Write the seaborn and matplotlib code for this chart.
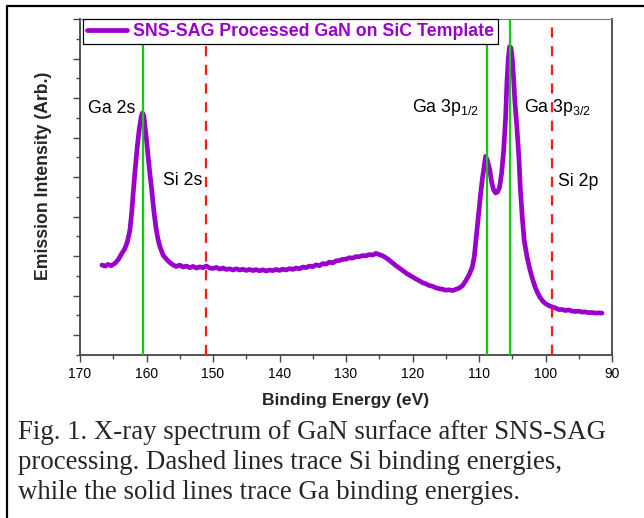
import numpy as np
import pandas as pd
import matplotlib
matplotlib.use("Agg")
import matplotlib.pyplot as plt
from matplotlib.lines import Line2D
from matplotlib.ticker import MultipleLocator, NullFormatter
import seaborn as sns

# ---- data ----
energy = [166.7, 166.2, 165.8, 165.3, 164.7, 164.2, 163.7, 163.3, 162.9, 162.5,
          162.2, 162.0, 161.7, 161.4, 161.1, 160.8, 160.6, 160.4, 160.1, 159.8,
          159.5, 159.2, 158.9, 158.6, 158.3, 158.0, 157.5, 157.0, 156.5, 156.0,
          155.5, 155.0, 154.5, 154.0, 153.5, 153.0, 152.5, 152.0, 151.5, 151.0,
          150.5, 150.0, 149.5, 149.0, 148.5, 148.0, 147.5, 147.0, 146.5, 146.0,
          145.5, 145.0, 144.5, 144.0, 143.5, 143.0, 142.5, 142.0, 141.5, 141.0,
          140.5, 140.0, 139.5, 139.0, 138.5, 138.0, 137.5, 137.0, 136.5, 136.0,
          135.5, 135.0, 134.5, 134.0, 133.5, 133.0, 132.5, 132.0, 131.5, 131.0,
          130.5, 130.0, 129.5, 129.0, 128.5, 128.0, 127.5, 127.0, 126.5, 126.0,
          125.5, 125.0, 124.5, 124.0, 123.5, 123.0, 122.5, 122.0, 121.5, 121.0,
          120.5, 120.0, 119.5, 119.0, 118.5, 118.0, 117.5, 117.0, 116.5, 116.0,
          115.5, 115.0, 114.5, 114.0, 113.5, 113.0, 112.5, 112.0, 111.5, 111.0,
          110.7, 110.4, 110.1, 109.8, 109.5, 109.2, 109.0, 108.8, 108.6, 108.4,
          108.1, 107.8, 107.5, 107.2, 106.9, 106.6, 106.3, 106.0, 105.8, 105.6,
          105.4, 105.2, 105.0, 104.8, 104.6, 104.3, 104.0, 103.8, 103.5, 103.2,
          102.8, 102.4, 102.0, 101.6, 101.2, 100.8, 100.4, 100.0, 99.5, 99.0,
          98.5, 98.0, 97.5, 97.0, 96.5, 96.0, 95.5, 95.0, 94.5, 94.0,
          93.5, 93.0, 92.5, 92.0, 91.5]
intensity = [4.55, 4.50, 4.58, 4.52, 4.65, 4.85, 5.15, 5.35, 5.70, 6.30,
             7.30, 8.20, 9.40, 10.50, 11.40, 12.05, 12.25, 12.10, 11.20, 10.20,
             9.20, 8.30, 7.30, 6.50, 5.90, 5.50, 5.05, 4.85, 4.68, 4.55,
             4.48, 4.55, 4.45, 4.50, 4.42, 4.48, 4.40, 4.46, 4.42, 4.50,
             4.40, 4.38, 4.43, 4.35, 4.40, 4.33, 4.36, 4.30, 4.36, 4.30,
             4.34, 4.28, 4.33, 4.27, 4.32, 4.26, 4.31, 4.25, 4.30, 4.27,
             4.33, 4.28, 4.34, 4.30, 4.37, 4.33, 4.40, 4.36, 4.45, 4.42,
             4.50, 4.47, 4.56, 4.52, 4.62, 4.60, 4.70, 4.66, 4.76, 4.78,
             4.84, 4.85, 4.92, 4.90, 4.98, 4.97, 5.03, 5.02, 5.08, 5.06,
             5.14, 5.08, 5.02, 4.92, 4.80, 4.66, 4.52, 4.40, 4.28, 4.15,
             4.05, 3.95, 3.85, 3.76, 3.66, 3.60, 3.52, 3.48, 3.40, 3.36,
             3.33, 3.28, 3.30, 3.26, 3.32, 3.38, 3.50, 3.75, 4.05, 4.45,
             5.00, 6.00, 7.00, 8.00, 8.90, 9.60, 10.05, 9.90, 9.65, 9.40,
             8.75, 8.35, 8.20, 8.25, 8.50, 9.20, 10.30, 12.00, 13.80, 15.00,
             15.60, 15.55, 15.00, 14.00, 12.80, 11.50, 10.00, 8.50, 7.00, 5.80,
             5.00, 4.40, 3.90, 3.47, 3.15, 2.90, 2.72, 2.60, 2.50, 2.43,
             2.38, 2.30, 2.30, 2.25, 2.28, 2.22, 2.20, 2.22, 2.17, 2.18,
             2.14, 2.15, 2.12, 2.13, 2.12]

ga_lines = [160.6, 108.8, 105.3]
si_lines = [151.0, 99.0]
series_label = "SNS-SAG Processed GaN on SiC Template"
x_ticks = [170, 160, 150, 140, 130, 120, 110, 100, 90]
peak_labels = ["Ga 2s", "Si 2s", r"Ga 3p$_{1/2}$", r"Ga 3p$_{3/2}$", "Si 2p"]
peak_label_x = [168.8, 157.5, 120.1, 103.2, 98.1]
peak_label_y = [12.22, 8.58, 12.28, 12.28, 8.54]
caption = ["Fig. 1. X-ray spectrum of GaN surface after SNS-SAG",
           "processing. Dashed lines trace Si binding energies,",
           "while the solid lines trace Ga binding energies."]

df = pd.DataFrame({"energy": energy, "intensity": intensity})

# ---- style ----
sns.set_theme(style="ticks")
plt.rcParams["font.family"] = ["Liberation Sans", "DejaVu Sans"]
plt.rcParams["mathtext.fontset"] = "custom"
plt.rcParams["mathtext.rm"] = "Liberation Sans"
plt.rcParams["mathtext.it"] = "Liberation Sans:italic"
plt.rcParams["mathtext.bf"] = "Liberation Sans:bold"

purple = "#9900CC"
green = "#11CC11"
red = "#FF1A1A"
spine_c = "#444444"

fig = plt.figure(figsize=(6.44, 5.18), dpi=100)
fig.patch.set_facecolor("white")
W, H = 644, 518
ax = fig.add_axes([80 / W, 1 - 355 / H, (612 - 80) / W, (355 - 19) / H])

sns.lineplot(data=df, x="energy", y="intensity", ax=ax, sort=False,
             estimator=None, color=purple, linewidth=3.4, label=series_label,
             zorder=2)

for e in ga_lines:
    ax.axvline(e, color=green, linewidth=1.6, zorder=3)
for e in si_lines:
    ax.axvline(e, color=red, linewidth=1.6, dashes=(4.6, 3.8), zorder=3)

ax.set_xlim(170, 90)
ax.set_ylim(0, 17)
ax.xaxis.set_major_locator(plt.FixedLocator(x_ticks))
ax.xaxis.set_minor_locator(MultipleLocator(5))
ax.set_xticklabels([str(t) for t in x_ticks])
ax.yaxis.set_major_locator(plt.FixedLocator(np.arange(1, 18, 2)))
ax.yaxis.set_minor_locator(plt.FixedLocator(np.arange(0, 18, 2)))
ax.yaxis.set_major_formatter(NullFormatter())
ax.yaxis.set_minor_formatter(NullFormatter())

ax.tick_params(axis="both", which="major", direction="out", length=5,
               width=1.0, color=spine_c, labelsize=10, labelcolor="black", pad=4)
ax.tick_params(axis="both", which="minor", direction="out", length=3,
               width=1.0, color=spine_c)

for s in ["left", "bottom", "right"]:
    ax.spines[s].set_color(spine_c)
    ax.spines[s].set_linewidth(1.3)
ax.spines["top"].set_color("#777777")
ax.spines["top"].set_linewidth(0.8)

ax.set_xlabel("Binding Energy (eV)", fontsize=12.6, fontweight="bold")
ax.xaxis.set_label_coords(0.5, (355 - 401) / 336)
ax.xaxis.label.set_va("center")
ax.set_ylabel("Emission Intensity (Arb.)", fontsize=12.7, fontweight="bold")
ax.yaxis.set_label_coords((44 - 80) / 532, (355 - 176) / 336)
ax.yaxis.label.set_va("center")

for lab, xx, yy in zip(peak_labels, peak_label_x, peak_label_y):
    ax.text(xx, yy, lab, fontsize=12.8, ha="left", va="baseline",
            color="black", zorder=4)

leg = ax.legend(loc="upper left", bbox_to_anchor=(0.005, 1.0),
                borderaxespad=0, frameon=True, fancybox=False,
                edgecolor="black", framealpha=1, handlelength=2.3,
                handletextpad=0.3, borderpad=0.22,
                prop={"size": 12.8, "weight": "bold"})
leg.get_frame().set_linewidth(0.9)
leg.set_zorder(10)
for t in leg.get_texts():
    t.set_color(purple)

ys = [439, 469, 499]
for line, yb in zip(caption, ys):
    fig.text(18 / W, 1 - yb / H, line, fontsize=19.3, ha="left",
             va="baseline", family=["Liberation Serif", "DejaVu Serif"])

# outer frame (left and top edges visible)
fig.add_artist(Line2D([6.5 / W, 6.5 / W], [0, 1 - 5.5 / H],
                      transform=fig.transFigure, color="black", lw=1.6))
fig.add_artist(Line2D([6.5 / W, 1], [1 - 5.5 / H, 1 - 5.5 / H],
                      transform=fig.transFigure, color="black", lw=1.6))

fig.savefig("out.png", dpi=100)
